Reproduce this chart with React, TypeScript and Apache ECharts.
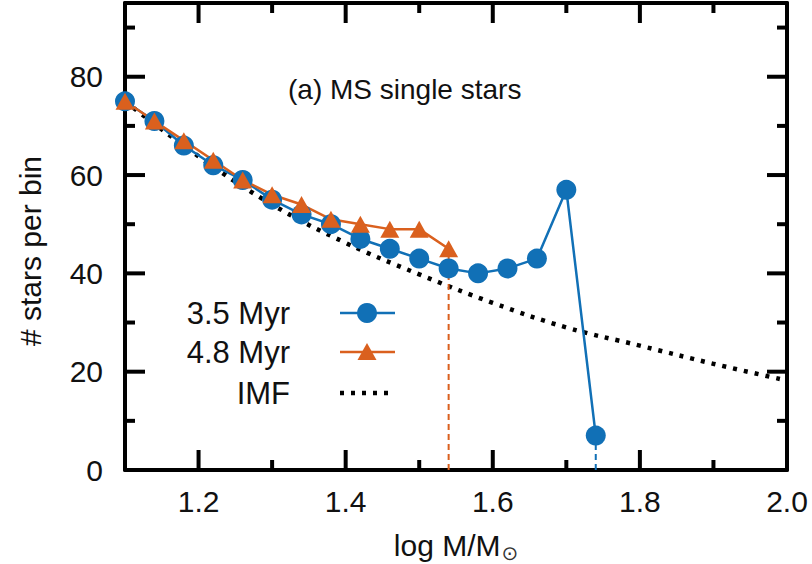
import React, { useEffect, useRef } from "react";
import * as echarts from "echarts";

// ---- data ----
const massBins35 = [1.1, 1.14, 1.18, 1.22, 1.26, 1.3, 1.34, 1.38, 1.42, 1.46, 1.5, 1.54, 1.58, 1.62, 1.66, 1.7, 1.74];
const counts35 = [75, 71, 66, 62, 59, 55, 52, 50, 47, 45, 43, 41, 40, 41, 43, 57, 7];
const massBins48 = [1.1, 1.14, 1.18, 1.22, 1.26, 1.3, 1.34, 1.38, 1.42, 1.46, 1.5, 1.54];
const counts48 = [75, 71, 67, 63, 59, 56, 54, 51, 50, 49, 49, 45];
const imfMass = [1.1, 1.2, 1.3, 1.4, 1.5, 1.6, 1.7, 1.8, 1.9, 2.0];
const imfCounts = [75, 63.8, 54, 46.2, 39.8, 34, 29, 25.3, 21.6, 18.2];
const xMajorTicks = [1.2, 1.4, 1.6, 1.8, 2.0];
const xMinorTicks = [1.1, 1.3, 1.5, 1.7, 1.9];
const yMajorTicks = [0, 20, 40, 60, 80];
const yMinorTicks = [10, 30, 50, 70, 90];
const xRange = [1.1, 2.0];
const yRange = [0, 95];
const seriesNames = ["3.5 Myr", "4.8 Myr", "IMF"];
const panelTitle = "(a) MS single stars";

const BLUE = "#1170b6";
const ORANGE = "#da601e";
const FONT = "'Liberation Sans', Arial, Helvetica, sans-serif";
const MAJOR_LEN = 20;
const MINOR_LEN = 10;

function zip(xs: number[], ys: number[]) {
  return xs.map((x, i) => [x, ys[i]]);
}

export default function App() {
  const ref = useRef<HTMLDivElement>(null);

  useEffect(() => {
    if (!ref.current) return;
    const chart = echarts.init(ref.current, undefined, { renderer: "svg" });

    const last35 = massBins35.length - 1;
    const last48 = massBins48.length - 1;

    const lx = 290, ix0 = 340, ix1 = 395, icx = 367;
    const rows = [313, 352, 393];

    const frame = () => ({ show: true, onZero: false, lineStyle: { color: "#000", width: 4 } });

    chart.setOption({
      animation: false,
      title: {
        text: panelTitle,
        left: 283,
        top: 70,
        textStyle: { fontFamily: FONT, fontSize: 28, fontWeight: "normal", color: "#111" },
      },
      grid: { left: 125, right: 25, top: 3, bottom: 94, outerBoundsMode: "none" },
      xAxis: [
        {
          type: "value", min: xRange[0], max: xRange[1], position: "bottom",
          splitLine: { show: false }, axisLine: frame(), axisTick: { show: false },
          axisLabel: {
            show: true, customValues: xMajorTicks.slice(), margin: 16, fontSize: 30, color: "#111",
            fontFamily: FONT, formatter: (v: number) => v.toFixed(1),
          },
          name: "{a|log M/M}{b|⊙}",
          nameLocation: "middle",
          nameGap: 50,
          nameTextStyle: {
            rich: {
              a: { fontSize: 30, fontFamily: FONT, color: "#111", lineHeight: 32, verticalAlign: "top" },
              b: { fontSize: 20, fontFamily: "DejaVu Sans", color: "#333", lineHeight: 20, padding: [22, 0, 0, 1], verticalAlign: "bottom" },
            },
          },
        },
        {
          type: "value", min: xRange[0], max: xRange[1], position: "top",
          splitLine: { show: false }, axisLine: frame(), axisTick: { show: false }, axisLabel: { show: false },
        },
      ],
      yAxis: [
        {
          type: "value", min: yRange[0], max: yRange[1], position: "left",
          splitLine: { show: false }, axisLine: frame(), axisTick: { show: false },
          axisLabel: { show: true, customValues: yMajorTicks.slice(), margin: 22, fontSize: 30, color: "#111", fontFamily: FONT },
        },
        {
          type: "value", min: yRange[0], max: yRange[1], position: "right",
          splitLine: { show: false }, axisLine: frame(), axisTick: { show: false }, axisLabel: { show: false },
        },
      ],
      series: [
        {
          name: seriesNames[2], type: "line", xAxisIndex: 0, yAxisIndex: 0,
          data: zip(imfMass, imfCounts), smooth: 0.4, showSymbol: false, symbol: "none",
          lineStyle: { color: "#000", width: 4.5, type: [4, 7], cap: "butt" },
        },
        {
          type: "line", xAxisIndex: 0, yAxisIndex: 0,
          data: [[massBins35[last35], 0], [massBins35[last35], counts35[last35]]],
          symbol: "none", lineStyle: { color: BLUE, width: 2, type: [6, 4] },
        },
        {
          name: seriesNames[0], type: "line", xAxisIndex: 0, yAxisIndex: 0, data: zip(massBins35, counts35),
          symbol: "circle", symbolSize: 20, itemStyle: { color: BLUE },
          lineStyle: { color: BLUE, width: 2.5 },
        },
        {
          type: "line", xAxisIndex: 0, yAxisIndex: 0,
          data: [[massBins48[last48], 0], [massBins48[last48], counts48[last48]]],
          symbol: "none", lineStyle: { color: ORANGE, width: 2, type: [6, 4] },
        },
        {
          name: seriesNames[1], type: "line", xAxisIndex: 0, yAxisIndex: 0, data: zip(massBins48, counts48),
          symbol: "triangle", symbolSize: [19, 17], itemStyle: { color: ORANGE },
          lineStyle: { color: ORANGE, width: 2.5 },
        },
      ],
    });

    // tick marks on all four sides, placed through the chart's own scales
    const toPx = (x: number, y: number): number[] =>
      chart.convertToPixel({ xAxisIndex: 0, yAxisIndex: 0 }, [x, y]) as number[];
    const tickEls: any[] = [];
    const addTick = (x1: number, y1: number, x2: number, y2: number) => {
      tickEls.push({
        type: "line", z: 10, silent: true,
        shape: { x1, y1, x2, y2 },
        style: { stroke: "#000", lineWidth: 4 },
      });
    };
    const addX = (vals: number[], len: number) => {
      vals.forEach((v) => {
        const b = toPx(v, yRange[0]);
        const t = toPx(v, yRange[1]);
        if (b && t) {
          addTick(b[0], b[1], b[0], b[1] - len);
          addTick(t[0], t[1], t[0], t[1] + len);
        }
      });
    };
    const addY = (vals: number[], len: number) => {
      vals.forEach((v) => {
        const l = toPx(xRange[0], v);
        const r = toPx(xRange[1], v);
        if (l && r) {
          addTick(l[0], l[1], l[0] + len, l[1]);
          addTick(r[0], r[1], r[0] - len, r[1]);
        }
      });
    };
    addX(xMajorTicks, MAJOR_LEN);
    addX(xMinorTicks, MINOR_LEN);
    addY(yMajorTicks, MAJOR_LEN);
    addY(yMinorTicks, MINOR_LEN);

    chart.setOption({
      graphic: [
        {
          type: "text", x: 30, y: 251, rotation: Math.PI / 2,
          style: { text: "# stars per bin", fontSize: 30, fontFamily: FONT, fill: "#111", align: "center", verticalAlign: "middle" },
        },
        ...seriesNames.map((n, i) => ({
          type: "text", x: lx, y: rows[i],
          style: { text: n, fontSize: 31, fontFamily: FONT, fill: "#111", align: "right", verticalAlign: "middle" },
        })),
        { type: "line", shape: { x1: ix0, y1: rows[0], x2: ix1, y2: rows[0] }, style: { stroke: BLUE, lineWidth: 2.5 } },
        { type: "circle", shape: { cx: icx, cy: rows[0], r: 10 }, style: { fill: BLUE } },
        { type: "line", shape: { x1: ix0, y1: rows[1], x2: ix1, y2: rows[1] }, style: { stroke: ORANGE, lineWidth: 2.5 } },
        {
          type: "polygon",
          shape: { points: [[icx - 9.5, rows[1] + 8], [icx + 9.5, rows[1] + 8], [icx, rows[1] - 9]] },
          style: { fill: ORANGE },
        },
        {
          type: "line", shape: { x1: ix0, y1: rows[2], x2: ix1, y2: rows[2] },
          style: { stroke: "#000", lineWidth: 4.5, lineDash: [4, 7] },
        },
        ...tickEls,
      ],
    });

    return () => chart.dispose();
  }, []);

  return <div ref={ref} style={{ width: 812, height: 564, position: "absolute", left: 0, top: 0 }} />;
}
